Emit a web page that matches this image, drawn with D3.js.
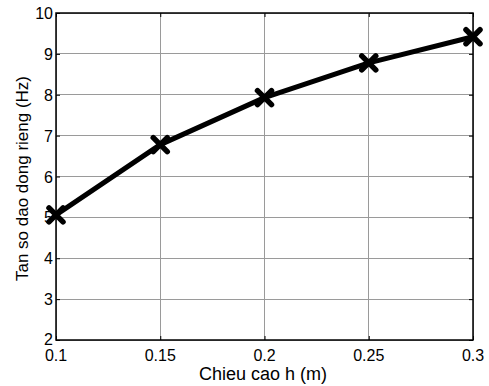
<!DOCTYPE html>
<html>
<head>
<meta charset="utf-8">
<script src="https://cdn.jsdelivr.net/npm/d3@7"></script>
<style>
  body { margin: 0; background: #fff; }
  text { font-family: "Liberation Sans", Arial, sans-serif; fill: #000; }
</style>
</head>
<body>
<div class="chart"></div>
<script>
const width = 489
const height = 386

// data
const heights = [0.1, 0.15, 0.2, 0.25, 0.3]
const freqs = [5.06, 6.78, 7.93, 8.78, 9.42]
const xTicks = [0.1, 0.15, 0.2, 0.25, 0.3]
const yTicks = [2, 3, 4, 5, 6, 7, 8, 9, 10]

const pLeft = 56, pRight = 473, pTop = 13, pBottom = 340

const svg = d3.select('.chart')
  .append('svg')
  .attr('width', width)
  .attr('height', height)

const x = d3.scaleLinear().domain([0.1, 0.3]).range([pLeft, pRight])
const y = d3.scaleLinear().domain([2, 10]).range([pBottom, pTop])

// grid
svg.append('g')
  .selectAll('line')
  .data(xTicks)
  .enter().append('line')
    .attr('x1', d => x(d)).attr('x2', d => x(d))
    .attr('y1', pTop).attr('y2', pBottom)
    .attr('stroke', '#9a9a9a').attr('stroke-width', 1)
    .attr('shape-rendering', 'crispEdges')

svg.append('g')
  .selectAll('line')
  .data(yTicks)
  .enter().append('line')
    .attr('x1', pLeft).attr('x2', pRight)
    .attr('y1', d => y(d)).attr('y2', d => y(d))
    .attr('stroke', '#9a9a9a').attr('stroke-width', 1)
    .attr('shape-rendering', 'crispEdges')

// axes (ticks inward, labels drawn separately)
const axL = svg.append('g').attr('transform', `translate(${pLeft},0)`)
  .call(d3.axisRight(y).tickValues(yTicks).tickSize(4).tickFormat(''))
const axR = svg.append('g').attr('transform', `translate(${pRight},0)`)
  .call(d3.axisLeft(y).tickValues(yTicks).tickSize(4).tickFormat(''))
const axB = svg.append('g').attr('transform', `translate(0,${pBottom})`)
  .call(d3.axisTop(x).tickValues(xTicks).tickSize(4).tickFormat(''))
const axT = svg.append('g').attr('transform', `translate(0,${pTop})`)
  .call(d3.axisBottom(x).tickValues(xTicks).tickSize(4).tickFormat(''))
for (const a of [axL, axR, axB, axT]) {
  a.select('.domain').remove()
  a.selectAll('line').attr('stroke', '#000')
}

svg.append('rect')
  .attr('x', pLeft).attr('y', pTop)
  .attr('width', pRight - pLeft).attr('height', pBottom - pTop)
  .attr('fill', 'none').attr('stroke', '#000').attr('stroke-width', 1.5)

// tick labels
svg.append('g')
  .selectAll('text')
  .data(yTicks)
  .enter().append('text')
    .attr('x', pLeft - 3)
    .attr('y', d => y(d) + (d === 2 ? 5 : 6))
    .attr('text-anchor', 'end')
    .attr('font-size', 16)
    .text(d => d)

svg.append('g')
  .selectAll('text')
  .data(xTicks)
  .enter().append('text')
    .attr('x', d => x(d))
    .attr('y', pBottom + 21)
    .attr('text-anchor', 'middle')
    .attr('font-size', 16)
    .text(d => d)

// axis titles
svg.append('text')
  .attr('x', 263)
  .attr('y', 380)
  .attr('text-anchor', 'middle')
  .attr('font-size', 18)
  .text('Chieu cao h (m)')

svg.append('text')
  .attr('transform', `translate(28,${(pTop + pBottom) / 2 + 2}) rotate(-90)`)
  .attr('text-anchor', 'middle')
  .attr('font-size', 17)
  .text('Tan so dao dong rieng (Hz)')

// data line
const pts = heights.map((h, i) => [h, freqs[i]])
svg.append('path')
  .datum(pts)
  .attr('d', d3.line().x(d => x(d[0])).y(d => y(d[1])))
  .attr('fill', 'none')
  .attr('stroke', '#000')
  .attr('stroke-width', 5)
  .attr('stroke-linejoin', 'round')

// x markers
const m = 7
svg.append('g')
  .selectAll('path')
  .data(pts)
  .enter().append('path')
    .attr('d', d => {
      const cx = x(d[0]), cy = y(d[1])
      return `M${cx - m},${cy - m}L${cx + m},${cy + m}M${cx - m},${cy + m}L${cx + m},${cy - m}`
    })
    .attr('stroke', '#000')
    .attr('stroke-width', 5.5)
    .attr('stroke-linecap', 'round')
</script>
</body>
</html>
